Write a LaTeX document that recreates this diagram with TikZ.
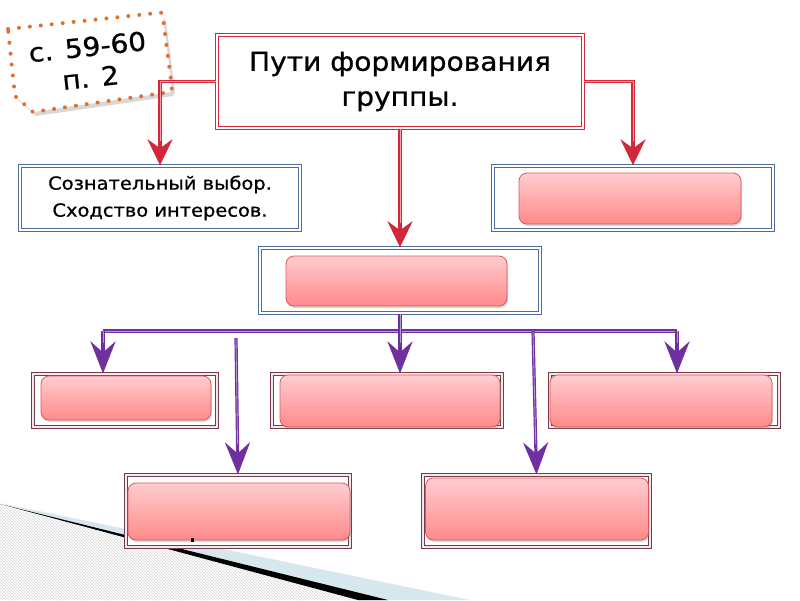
\documentclass[tikz,border=0pt]{standalone}
\usepackage{fontspec}
\setmainfont{DejaVu Sans}
\newfontfamily\comic[FakeStretch=1.08,FakeBold=0.8]{DejaVu Sans}
\usetikzlibrary{arrows.meta,shadows,patterns}
\definecolor{redline}{HTML}{D4283A}
\definecolor{redlight}{HTML}{F4A0A8}
\definecolor{blueline}{HTML}{4A6CA3}
\definecolor{maroonl}{HTML}{7A3848}
\definecolor{purp}{HTML}{7030A0}
\definecolor{purplight}{HTML}{B898D8}
\definecolor{pinktop}{HTML}{FFCDD0}
\definecolor{pinkbot}{HTML}{FF8A8A}
\definecolor{pinkedge}{HTML}{D85A60}
\definecolor{dotor}{HTML}{E0702A}
\definecolor{paleblue}{HTML}{D6E8EE}
\begin{document}
\begin{tikzpicture}[x=1pt,y=-1pt,
  redbox/.style={draw=redline, double=white, double distance=2pt, line width=1.4pt, fill=white, inner sep=0pt},
  bluebox/.style={draw=blueline, double=white, double distance=1.6pt, line width=1.4pt, fill=white, inner sep=0pt,
     drop shadow={opacity=0.25, shadow xshift=1.5pt, shadow yshift=-1.5pt}},
  maroonbox/.style={draw=maroonl, double=gray!15, double distance=1.6pt, line width=1.1pt, fill=white, inner sep=0pt},
  pinkbox/.style={draw=pinkedge, line width=0.8pt, rounded corners=8pt, top color=pinktop, bottom color=pinkbot, inner sep=0pt,
     drop shadow={opacity=0.3, shadow xshift=1pt, shadow yshift=-2pt}},
  redarr/.style={draw=redline, line width=3.4pt, -{Stealth[length=26pt,width=25pt,inset=9pt]},
     postaction={draw=redlight, line width=0.9pt, -, shorten >=24pt}},
  purparr/.style={draw=purp, line width=3.2pt, -{Stealth[length=32pt,width=25pt,inset=11pt]},
     postaction={draw=purplight, line width=0.8pt, -, shorten >=30pt}},
  purpline/.style={draw=purp, line width=3.2pt, postaction={draw=purplight, line width=0.8pt}}
]
\fill[white] (0,0) rectangle (800,600);
\useasboundingbox (0,0) rectangle (800,600);
% bottom-left decoration
\fill[paleblue] (0,503) -- (470,600) -- (360,600) -- cycle;
\fill[white] (0,505) -- (360,600) -- (0,600) -- cycle;
\fill[pattern=north west lines, pattern color=gray!35] (0,505) -- (360,600) -- (0,600) -- cycle;
\fill[black] (0,504) -- (388,600) -- (358,600) -- cycle;
% note
\fill[gray!60, opacity=0.5] (11,32) -- (160,16) -- (166,21) -- (175,92) -- (173,96) -- (36,116) -- (18,100) -- cycle;
\filldraw[fill=white, draw=dotor, dash pattern=on 0pt off 11pt, line cap=round, line width=4pt]
  (8,29) -- (157,13) .. controls (162,12) .. (163,18) -- (172,88) -- (170,92) -- (33,112) -- (15,96) -- cycle;
\node[rotate=6, align=center, font=\comic\fontsize{26}{31}\selectfont] (note) at (89,62) {с. 59-60\\п. 2};
% main
\node[redbox, minimum width=366pt, minimum height=93pt, align=center, font=\comic\fontsize{26}{35}\selectfont] (main) at (400,81.5) {Пути формирования\\группы.};
% second row
\node[bluebox, minimum width=280pt, minimum height=64pt, align=center, font=\comic\fontsize{18}{27}\selectfont] (left) at (160,198) {Сознательный выбор.\\Сходство интересов.};
\node[bluebox, minimum width=280pt, minimum height=64pt] (right) at (633,198) {};
\node[pinkbox, minimum width=222pt, minimum height=51pt] (rightp) at (630,198.5) {};
\node[bluebox, minimum width=280pt, minimum height=65pt] (center) at (400,280.5) {};
\node[pinkbox, minimum width=221pt, minimum height=50pt] (centerp) at (396.5,281) {};
% third row
\node[maroonbox, minimum width=184pt, minimum height=53pt] (A) at (125,400.5) {};
\node[pinkbox, minimum width=170pt, minimum height=44pt] (Ap) at (126,398) {};
\node[maroonbox, minimum width=230pt, minimum height=53pt] (B) at (387,400.5) {};
\node[pinkbox, minimum width=220pt, minimum height=52pt] (Bp) at (390,401) {};
\node[maroonbox, minimum width=229pt, minimum height=53pt] (C) at (664.5,400.5) {};
\node[pinkbox, minimum width=222pt, minimum height=52pt] (Cp) at (661,401) {};
% fourth row
\node[maroonbox, minimum width=224pt, minimum height=72pt] (D) at (238,511) {};
\node[pinkbox, minimum width=222pt, minimum height=57pt] (Dp) at (239,511.5) {};
\node[maroonbox, minimum width=227pt, minimum height=72pt] (E) at (536.5,511) {};
\node[pinkbox, minimum width=223pt, minimum height=62pt] (Ep) at (537,509) {};
\fill[black] (191,538) rectangle (193.5,542);
% red connectors
\draw[redarr] (main.west) -| (left.north);
\draw[redarr] (main.east) -| (right.north);
\draw[redarr] (main.south) -- (center.north);
% purple connectors
\coordinate (bus) at (400,331);
\coordinate (busL) at (103,331);
\coordinate (busR) at (677,331);
\coordinate (busE) at (533,331);
\coordinate (topD) at (236,338);
\draw[purpline] (busL) -- (busR);
\draw[purparr] (busL) -- (busL |- A.north);
\draw[purparr] (busR) -- (busR |- C.north);
\draw[purparr] (center.south) -- (center.south |- B.north);
\draw[purparr] (busE) -- (E.north);
\draw[purparr] (topD) -- (D.north);
\end{tikzpicture}
\end{document}
